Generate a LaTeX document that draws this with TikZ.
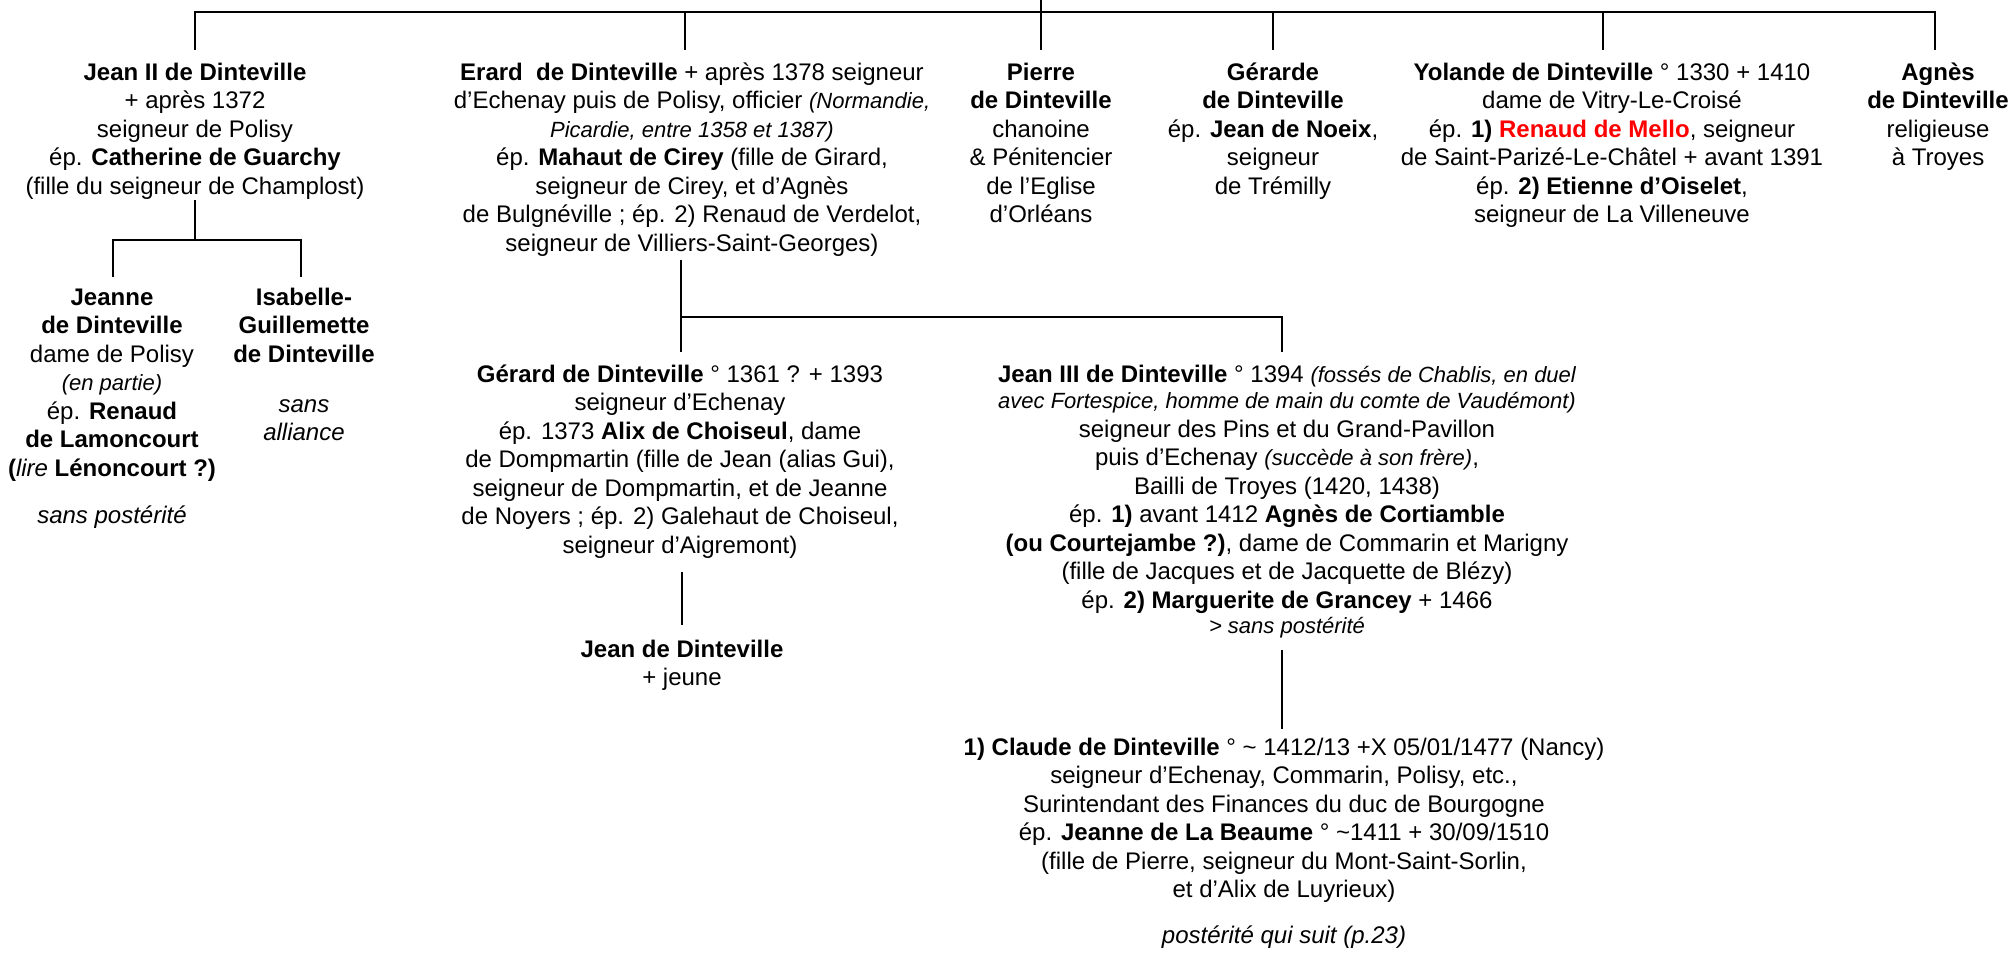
\documentclass[tikz,border=0pt]{standalone}
\usepackage{fontspec}
\setmainfont{Liberation Sans}
\usepackage{xcolor}
\definecolor{namered}{RGB}{255,0,0}
\newcommand{\blk}[1]{\begin{tabular}[t]{@{}c@{}}#1\end{tabular}}
\newcommand{\smit}[1]{{\fontsize{22}{26}\selectfont\itshape #1}}
\begin{document}
\begin{tikzpicture}[x=1pt,y=-1pt,
  link/.style={line width=2.8pt, line join=miter},
  person/.style={anchor=base, inner sep=0pt, font=\fontsize{24}{28.5}\selectfont}]
\useasboundingbox (0,0) rectangle (2011,956);

% ---------- generation 1 ----------
\node[person] (jean2) at (195,80) {\blk{
  \textbf{Jean II de Dinteville}\\
  + après 1372\\
  seigneur de Polisy\\
  ép. \textbf{Catherine de Guarchy}\\
  (fille du seigneur de Champlost)}};

\node[person] (erard) at (692,80) {\blk{
  \textbf{Erard\ \ de Dinteville} + après 1378 seigneur\\
  d’Echenay puis de Polisy, officier \smit{(Normandie,}\\
  \smit{Picardie, entre 1358 et 1387)}\\
  ép. \textbf{Mahaut de Cirey} (fille de Girard,\\
  seigneur de Cirey, et d’Agnès\\
  de Bulgnéville ; ép. 2) Renaud de Verdelot,\\
  seigneur de Villiers-Saint-Georges)}};

\node[person] (pierre) at (1041,80) {\blk{
  \textbf{Pierre}\\
  \textbf{de Dinteville}\\
  chanoine\\
  \& Pénitencier\\
  de l’Eglise\\
  d’Orléans}};

\node[person] (gerarde) at (1273,80) {\blk{
  \textbf{Gérarde}\\
  \textbf{de Dinteville}\\
  ép. \textbf{Jean de Noeix},\\
  seigneur\\
  de Trémilly}};

\node[person] (yolande) at (1612,80) {\blk{
  \textbf{Yolande de Dinteville} ° 1330 + 1410\\
  dame de Vitry-Le-Croisé\\
  ép. \textbf{1) \textcolor{namered}{Renaud de Mello}}, seigneur\\
  de Saint-Parizé-Le-Châtel + avant 1391\\
  ép. \textbf{2) Etienne d’Oiselet},\\
  seigneur de La Villeneuve}};

\node[person] (agnes) at (1938,80) {\blk{
  \textbf{Agnès}\\
  \textbf{de Dinteville}\\
  religieuse\\
  à Troyes}};

% ---------- generation 2 ----------
\node[person] (jeanne) at (112,305) {\blk{
  \textbf{Jeanne}\\
  \textbf{de Dinteville}\\
  dame de Polisy\\
  \smit{(en partie)}\\
  ép. \textbf{Renaud}\\
  \textbf{de Lamoncourt}\\
  \textbf{(}\textit{lire} \textbf{Lénoncourt ?)}\\[18.5pt]
  \textit{sans postérité}}};

\node[person] (isabelle) at (304,305) {\blk{
  \textbf{Isabelle-}\\
  \textbf{Guillemette}\\
  \textbf{de Dinteville}\\[21.5pt]
  \textit{sans}\\
  \textit{alliance}}};

\node[person] (gerard) at (680,382) {\blk{
  \textbf{Gérard de Dinteville} ° 1361 ? + 1393\\
  seigneur d’Echenay\\
  ép. 1373 \textbf{Alix de Choiseul}, dame\\
  de Dompmartin (fille de Jean (alias Gui),\\
  seigneur de Dompmartin, et de Jeanne\\
  de Noyers ; ép. 2) Galehaut de Choiseul,\\
  seigneur d’Aigremont)}};

\node[person] (jean3) at (1287,382) {\blk{
  \textbf{Jean III de Dinteville} ° 1394 \smit{(fossés de Chablis, en duel}\\[-2pt]
  \smit{avec Fortespice, homme de main du comte de Vaudémont)}\\
  seigneur des Pins et du Grand-Pavillon\\
  puis d’Echenay \smit{(succède à son frère)},\\
  Bailli de Troyes (1420, 1438)\\
  ép. \textbf{1)} avant 1412 \textbf{Agnès de Cortiamble}\\
  \textbf{(ou Courtejambe ?)}, dame de Commarin et Marigny\\
  (fille de Jacques et de Jacquette de Blézy)\\
  ép. \textbf{2) Marguerite de Grancey} + 1466\\[-3pt]
  \smit{> sans postérité}}};

% ---------- generation 3 ----------
\node[person] (jeanjeune) at (682,657) {\blk{
  \textbf{Jean de Dinteville}\\
  + jeune}};

\node[person] (claude) at (1284,755) {\blk{
  \textbf{1) Claude de Dinteville} ° \textasciitilde{} 1412/13 +X 05/01/1477 (Nancy)\\
  seigneur d’Echenay, Commarin, Polisy, etc.,\\
  Surintendant des Finances du duc de Bourgogne\\
  ép. \textbf{Jeanne de La Beaume} ° \textasciitilde1411 + 30/09/1510\\
  (fille de Pierre, seigneur du Mont-Saint-Sorlin,\\
  et d’Alix de Luyrieux)\\[17pt]
  \textit{postérité qui suit (p.23)}}};

% ---------- connector points ----------
\coordinate (root) at (1041,0);
\coordinate (bus) at (0,12);
\coordinate (jean2-in) at (195,50);
\coordinate (erard-in) at (685,50);
\coordinate (pierre-in) at (1041,50);
\coordinate (gerarde-in) at (1273,50);
\coordinate (yolande-in) at (1603,50);
\coordinate (agnes-in) at (1935,50);

\coordinate (jean2-out) at (195,200);
\coordinate (bus2) at (0,240);
\coordinate (jeanne-in) at (113,277);
\coordinate (isabelle-in) at (301,277);

\coordinate (erard-out) at (681,260);
\coordinate (bus3) at (0,317);
\coordinate (gerard-in) at (681,352);
\coordinate (jean3-in) at (1282,352);

\coordinate (gerard-out) at (682,572);
\coordinate (jeanjeune-in) at (682,625);
\coordinate (jean3-out) at (1282,650);
\coordinate (claude-in) at (1282,729);

% ---------- connectors ----------
\draw[link] (jean2-in) -- (jean2-in |- bus) -- (agnes-in |- bus) -- (agnes-in);
\draw[link] (root) -- (pierre-in);
\foreach \c in {erard,gerarde,yolande} \draw[link] (\c-in) -- (\c-in |- bus);

\draw[link] (jean2-out) -- (jean2-out |- bus2);
\draw[link] (jeanne-in) -- (jeanne-in |- bus2) -- (isabelle-in |- bus2) -- (isabelle-in);

\draw[link] (erard-out) -- (gerard-in);
\draw[link] (erard-out |- bus3) -- (jean3-in |- bus3) -- (jean3-in);

\draw[link] (gerard-out) -- (jeanjeune-in);
\draw[link] (jean3-out) -- (claude-in);
\end{tikzpicture}
\end{document}
